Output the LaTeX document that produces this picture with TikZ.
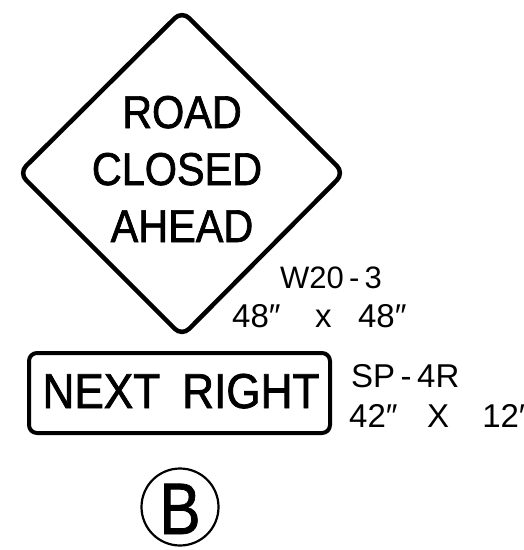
\documentclass[tikz,border=0pt]{standalone}
\usepackage{fontspec}
\setmainfont{Liberation Sans}
\newfontfamily\signfont[FakeStretch=0.9,FakeBold=1.5]{Liberation Sans}
\newfontfamily\markfont[FakeStretch=0.85,FakeBold=1]{Liberation Sans}
\usetikzlibrary{positioning}

\tikzset{
    signborder/.style={line width=4.5pt, rounded corners=10pt, line join=round},
    signtext/.style={font=\signfont\fontsize{46}{46}\selectfont, inner sep=0pt, anchor=base},
    tagtext/.style={font=\fontsize{33}{33}\selectfont, inner sep=0pt, anchor=base west},
}

\begin{document}
\begin{tikzpicture}[x=1pt,y=-1pt]
        \useasboundingbox (0,0) rectangle (524,550);

        % W20-3 diamond
        \draw[signborder] (182,11) -- (344,173) -- (182,336) -- (19,173) -- cycle;
        \node[signtext] (road) at (182,128) {ROAD};
        \node[signtext] (closed) at (177,185) {CLOSED};
        \node[signtext] (ahead) at (182,242) {AHEAD};

        \node[tagtext, font=\fontsize{31}{31}\selectfont] (wcode) at (280,288) {W20\,-\,3};
        \node[tagtext] (wsize) at (232,327) {48″\hspace{1.05em}x\hspace{0.8em}48″};

        % SP-4R plate
        \draw[signborder, line width=4pt, rounded corners=8pt] (29,353) rectangle (330,433);
        \node[signtext, font=\signfont\fontsize{49}{49}\selectfont] (next) at (181,408)
        {NEXT\hspace{0.45em}RIGHT};

        \node[tagtext] (spcode) at (351,387) {SP\,-\,4R};
        \node[tagtext] (spsize) at (349,427) {42″\hspace{0.9em}X\hspace{1em}12′};

        % detail mark
        \draw[line width=2.2pt] (180,507) circle (38.5);
        \node[inner sep=0pt, anchor=base, font=\markfont\fontsize{73}{73}\selectfont] (mark) at (180,534) {B};
    \end{tikzpicture}
\end{document}
